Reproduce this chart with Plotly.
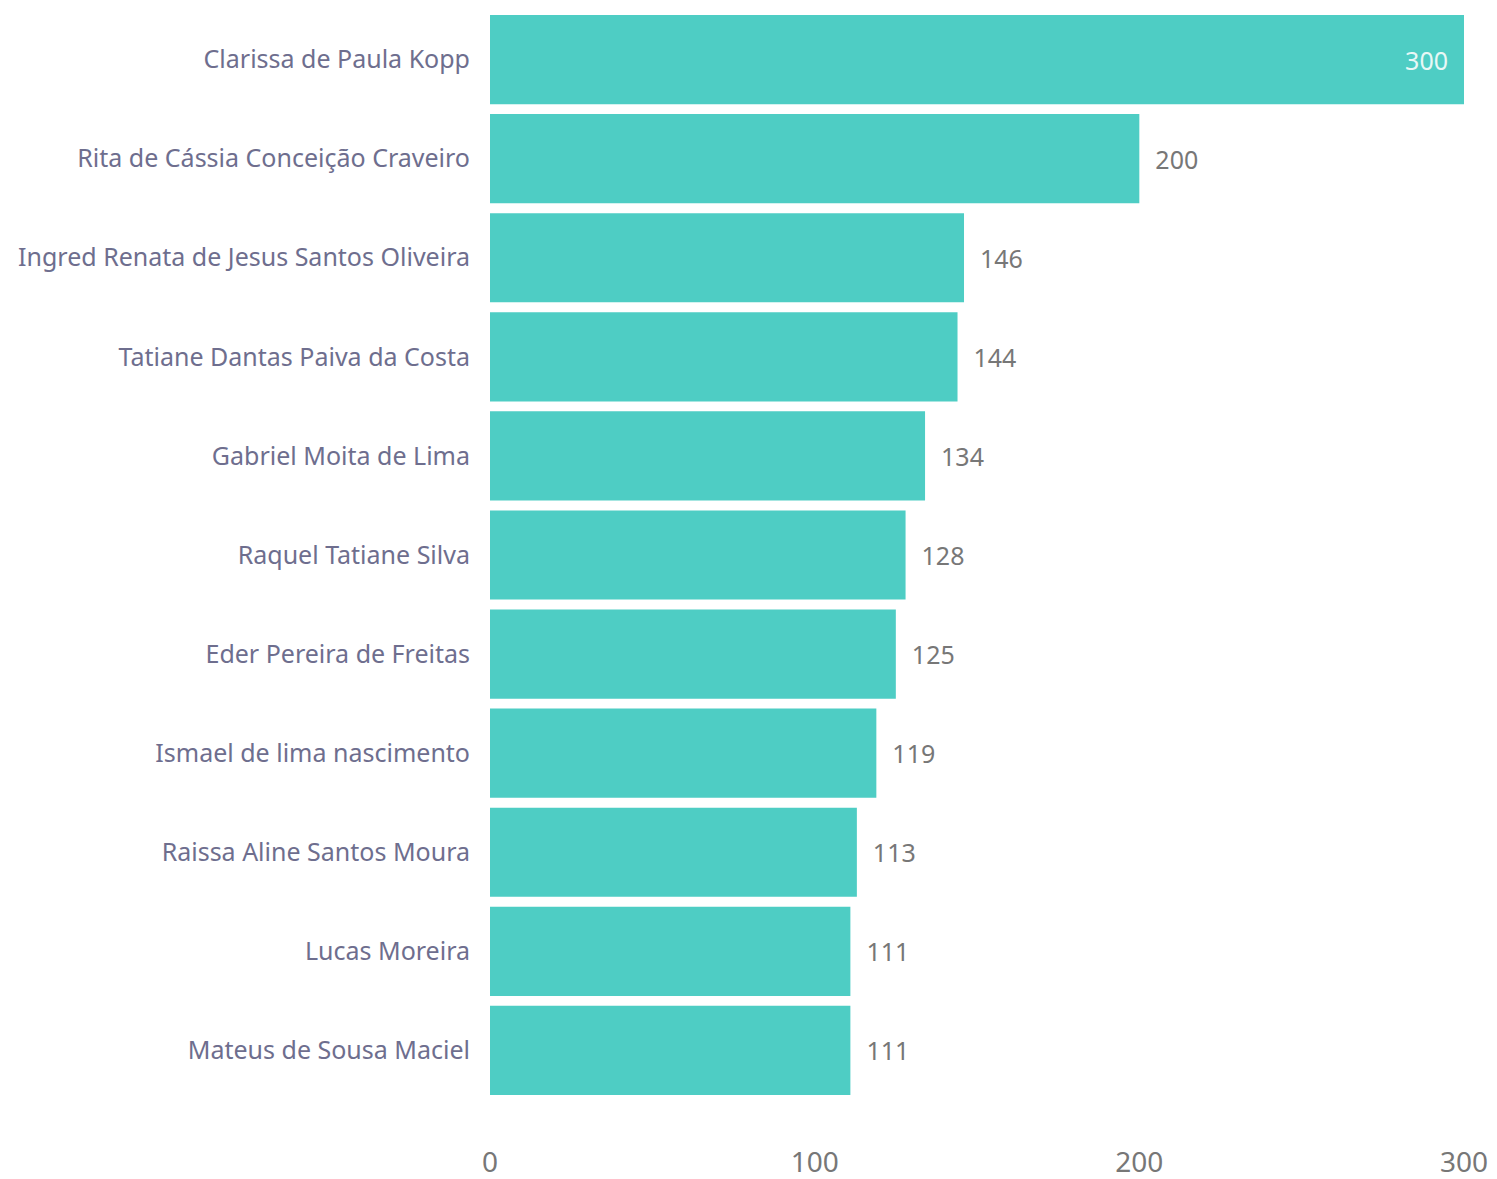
import plotly.graph_objects as go

names = [
    "Clarissa de Paula Kopp",
    "Rita de Cássia Conceição Craveiro",
    "Ingred Renata de Jesus Santos Oliveira",
    "Tatiane Dantas Paiva da Costa",
    "Gabriel Moita de Lima",
    "Raquel Tatiane Silva",
    "Eder Pereira de Freitas",
    "Ismael de lima nascimento",
    "Raissa Aline Santos Moura",
    "Lucas Moreira",
    "Mateus de Sousa Maciel",
]
values = [300, 200, 146, 144, 134, 128, 125, 119, 113, 111, 111]
x_ticks = [0, 100, 200, 300]

NB = "\u00a0"
text = []
positions = []
colors = []
for i, v in enumerate(values):
    if i == 0:
        text.append(f"{v}{NB*2}")
        positions.append("inside")
        colors.append("#E8F8F6")
    else:
        text.append(f"{NB*2}{v}")
        positions.append("outside")
        colors.append("#777777")

fig = go.Figure(
    go.Bar(
        y=names,
        x=values,
        orientation="h",
        marker=dict(color="#4ECDC4", line=dict(width=0)),
        text=text,
        textposition=positions,
        insidetextanchor="end",
        textfont=dict(size=25, color=colors, family="Noto Sans"),
        cliponaxis=False,
        hoverinfo="skip",
    )
)

fig.update_layout(
    width=1489,
    height=1171,
    margin=dict(l=482, r=33, t=2, b=79, autoexpand=False),
    paper_bgcolor="white",
    plot_bgcolor="white",
    bargap=0.1,
    showlegend=False,
    font=dict(family="Noto Sans"),
)
fig.update_yaxes(
    autorange="reversed",
    showgrid=False,
    zeroline=False,
    showline=False,
    ticks="",
    ticklabelstandoff=19,
    tickfont=dict(size=25, color="#6E6E8E", family="Noto Sans"),
)
fig.update_xaxes(
    range=[0, 300],
    tickvals=x_ticks,
    ticktext=[str(t) for t in x_ticks],
    showgrid=False,
    zeroline=False,
    showline=False,
    ticks="",
    ticklabelstandoff=43,
    tickfont=dict(size=28, color="#777777", family="Noto Sans"),
)

fig.write_html("out.html")
